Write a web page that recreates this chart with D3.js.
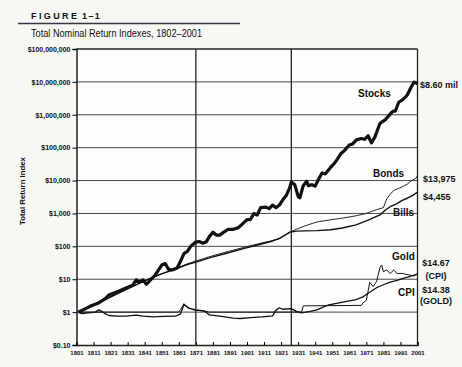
<!DOCTYPE html>
<html>
<head>
<meta charset="utf-8">
<script src="https://cdn.jsdelivr.net/npm/d3@7"></script>
<style>
body { margin: 0; background: #f7f8f4; }
svg text { font-family: "Liberation Sans", Arial, sans-serif; fill: #111; }
</style>
</head>
<body>
<script>
// values, [year, index value]
var stocks = [[1802,1],[1806,1.25],[1810,1.6],[1814,1.9],[1818,2.6],[1820,3.3],[1825,4.2],[1830,5.4],
    [1834,6.6],[1836,9.5],[1838,8.2],[1840,9.5],[1842,7],[1844,9],[1847,13],[1851,27],[1853,30],
    [1855,20],[1857,19],[1860,22],[1862,35],[1864,60],[1866,70],[1868,100],[1871,135],[1873,140],
    [1875,125],[1877,135],[1879,200],[1881,270],[1883,220],[1885,220],[1887,260],[1890,330],
    [1893,330],[1896,370],[1899,520],[1901,650],[1903,650],[1905,1000],[1907,900],[1909,1500],
    [1912,1550],[1914,1400],[1916,1800],[1918,1500],[1920,1800],[1922,2600],[1924,3500],
    [1926,6000],[1927,9100],[1929,7500],[1931,3300],[1932,3000],[1934,7000],[1936,9500],
    [1937,7000],[1939,7500],[1941,6800],[1943,11000],[1945,17000],[1947,16000],[1950,25000],
    [1952,32000],[1954,45000],[1956,65000],[1958,80000],[1961,120000],[1963,130000],
    [1965,170000],[1968,190000],[1970,180000],[1972,230000],[1974,140000],[1976,210000],
    [1979,550000],[1982,700000],[1986,1200000],[1987,1300000],[1988,1300000],[1990,2400000],
    [1992,2800000],[1994,3500000],[1995,4000000],[1997,6500000],[1999,9800000],[2000,9500000],
    [2001,8600000]];

var bonds = [[1802,1],[1810,1.55],[1820,2.8],[1830,5],[1840,8.5],[1850,14],[1860,22],[1865,28],
    [1871,36],[1880,50],[1890,70],[1900,95],[1910,128],[1915,145],[1920,170],[1926,270],
    [1930,330],[1935,420],[1942,550],[1950,640],[1957,720],[1965,850],[1971,1000],[1975,1200],
    [1979,1400],[1981,1500],[1983,2800],[1985,3800],[1987,5000],[1990,5800],[1993,6800],
    [1995,7800],[1997,9500],[1999,11000],[2000,11500],[2001,13975]];

var bills = [[1802,1],[1810,1.5],[1820,2.7],[1830,4.8],[1840,8.5],[1850,14],[1860,21],[1865,27],
    [1871,33],[1880,46],[1890,64],[1900,88],[1910,120],[1915,140],[1920,175],[1926,265],
    [1930,290],[1935,295],[1942,300],[1950,320],[1957,360],[1965,450],[1972,630],[1979,900],
    [1982,1250],[1985,1600],[1989,2000],[1992,2500],[1995,2900],[1998,3500],[2001,4455]];

var gold = [[1802,1],[1861,1],[1862,1.2],[1864,1.8],[1865,1.55],[1867,1.35],[1870,1.15],
    [1875,1.1],[1879,1],[1933,1],[1934,1.55],[1968,1.6],[1969,1.9],[1971,2.3],[1973,8],
    [1975,6],[1977,8.5],[1979,23],[1980,27],[1981,17],[1983,19],[1985,15],[1987,19],
    [1989,15],[1992,15],[1996,13.5],[1999,12.5],[2001,14.38]];

var cpi = [[1802,1],[1804,0.9],[1808,0.95],[1812,1.0],[1814,1.17],[1816,1.05],[1818,0.88],
    [1820,0.79],[1825,0.76],[1830,0.75],[1836,0.81],[1840,0.75],[1846,0.72],[1852,0.74],
    [1859,0.75],[1862,0.88],[1864,1.7],[1867,1.3],[1871,1.17],[1876,1.08],[1879,0.82],
    [1886,0.74],[1893,0.66],[1897,0.64],[1903,0.68],[1910,0.72],[1916,0.77],[1918,1.15],
    [1920,1.35],[1922,1.22],[1927,1.27],[1930,1.05],[1933,0.95],[1938,1.05],[1942,1.17],
    [1946,1.45],[1949,1.65],[1955,1.9],[1961,2.2],[1965,2.4],[1969,2.9],[1973,4],[1977,5.5],
    [1981,6.8],[1985,8.2],[1989,9.2],[1993,10.8],[1997,12.3],[2001,14.67]];

var yTicks = [0.1, 1, 10, 100, 1e3, 1e4, 1e5, 1e6, 1e7, 1e8];
var yLabels = ["$0.10", "$1", "$10", "$100", "$1,000", "$10,000", "$100,000",
    "$1,000,000", "$10,000,000", "$100,000,000"];
var xTicks = d3.range(1801, 2002, 10);
var markerYears = [1871, 1927];

var width = 462;
var height = 367;

var svg = d3.select("body")
    .append("svg")
    .attr("width", width)
    .attr("height", height);

var x = d3.scaleLinear()
    .domain([1801, 2001])
    .range([76.5, 417.5]);

var y = d3.scaleLog()
    .domain([0.1, 1e8])
    .range([345, 49]);

// heading
svg.append("text")
    .attr("x", 31).attr("y", 18.5)
    .attr("font-size", 9).attr("font-weight", "bold")
    .attr("letter-spacing", 2.4)
    .text("FIGURE");
svg.append("text")
    .attr("x", 82).attr("y", 18.5)
    .attr("font-size", 9).attr("font-weight", "bold")
    .attr("letter-spacing", 1.4)
    .text("1–1");
svg.append("line")
    .attr("x1", 18).attr("x2", 240)
    .attr("y1", 23.5).attr("y2", 23.5)
    .attr("stroke", "#3a3340").attr("stroke-width", 1.5);
svg.append("text")
    .attr("x", 31).attr("y", 37)
    .attr("font-size", 10)
    .attr("textLength", 171)
    .attr("lengthAdjust", "spacingAndGlyphs")
    .text("Total Nominal Return Indexes, 1802–2001");

// y title
svg.append("text")
    .attr("transform", "translate(25,191) rotate(-90)")
    .attr("text-anchor", "middle")
    .attr("font-size", 7.8).attr("font-weight", "bold")
    .text("Total Return Index");

// plot background
svg.append("rect")
    .attr("x", x.range()[0]).attr("y", y.range()[1])
    .attr("width", x.range()[1] - x.range()[0])
    .attr("height", y.range()[0] - y.range()[1])
    .attr("fill", "#fdfdfb");

// horizontal grid
svg.append("g")
    .selectAll("line")
    .data(yTicks.slice(1))
    .enter().append("line")
    .attr("x1", x.range()[0]).attr("x2", x.range()[1])
    .attr("y1", function(d) { return y(d); })
    .attr("y2", function(d) { return y(d); })
    .attr("stroke", function(d) { return d == 1e8 ? "#222" : "#4d4452"; })
    .attr("stroke-width", function(d) { return d == 1e8 ? 1.3 : 1; });

// vertical markers + right frame
svg.append("g")
    .selectAll("line")
    .data(markerYears.concat([2001]))
    .enter().append("line")
    .attr("x1", function(d) { return x(d); })
    .attr("x2", function(d) { return x(d); })
    .attr("y1", y.range()[1]).attr("y2", y.range()[0])
    .attr("stroke", "#222").attr("stroke-width", 1.3);

// series
var line = d3.line()
    .x(function(d) { return x(d[0]); })
    .y(function(d) { return y(d[1]); });

var series = [
    { data: gold, w: 1 },
    { data: cpi, w: 1.3 },
    { data: bills, w: 1.4 },
    { data: bonds, w: 0.9 },
    { data: stocks, w: 3.2 }
];

svg.append("g")
    .selectAll("path")
    .data(series)
    .enter().append("path")
    .attr("d", function(d) { return line(d.data); })
    .attr("fill", "none")
    .attr("stroke", "#111")
    .attr("stroke-width", function(d) { return d.w; })
    .attr("stroke-linejoin", "round");

// axes
var yAxis = svg.append("g")
    .attr("transform", "translate(" + x.range()[0] + ",0)")
    .call(d3.axisLeft(y)
        .tickValues(yTicks)
        .tickFormat(function(d, i) { return yLabels[i]; })
        .tickSize(4)
        .tickPadding(2));
yAxis.select(".domain").attr("stroke", "#222").attr("stroke-width", 1.5);
yAxis.selectAll("text")
    .attr("font-size", 7).attr("font-weight", "bold")
    .attr("font-family", "Liberation Sans, Arial, sans-serif");

var xAxis = svg.append("g")
    .attr("transform", "translate(0," + y.range()[0] + ")")
    .call(d3.axisBottom(x)
        .tickValues(xTicks)
        .tickFormat(d3.format("d"))
        .tickSize(-3)
        .tickPadding(6));
xAxis.select(".domain").attr("stroke", "#222").attr("stroke-width", 1.6);
xAxis.selectAll("text")
    .attr("font-size", 6).attr("font-weight", "bold")
    .attr("font-family", "Liberation Sans, Arial, sans-serif");

// series names
var names = [
    { t: "Stocks", x: 358, y: 97 },
    { t: "Bonds", x: 373, y: 177 },
    { t: "Bills", x: 393, y: 215.5 },
    { t: "Gold", x: 392, y: 259.5 },
    { t: "CPI", x: 398, y: 295.5 }
];
svg.append("g")
    .selectAll("text")
    .data(names)
    .enter().append("text")
    .attr("x", function(d) { return d.x; })
    .attr("y", function(d) { return d.y; })
    .attr("font-size", 10).attr("font-weight", "bold")
    .text(function(d) { return d.t; });

// end values
var ends = [
    { t: "$8.60 mil", x: 420, y: 87.5, a: "start" },
    { t: "$13,975", x: 423, y: 181.5, a: "start" },
    { t: "$4,455", x: 423, y: 199.5, a: "start" },
    { t: "$14.67", x: 436, y: 266, a: "middle" },
    { t: "(CPI)", x: 436, y: 278.5, a: "middle" },
    { t: "$14.38", x: 436, y: 293, a: "middle" },
    { t: "(GOLD)", x: 436, y: 303.5, a: "middle" }
];
svg.append("g")
    .selectAll("text")
    .data(ends)
    .enter().append("text")
    .attr("x", function(d) { return d.x; })
    .attr("y", function(d) { return d.y; })
    .attr("text-anchor", function(d) { return d.a; })
    .attr("font-size", 9).attr("font-weight", "bold")
    .text(function(d) { return d.t; });
</script>
</body>
</html>
